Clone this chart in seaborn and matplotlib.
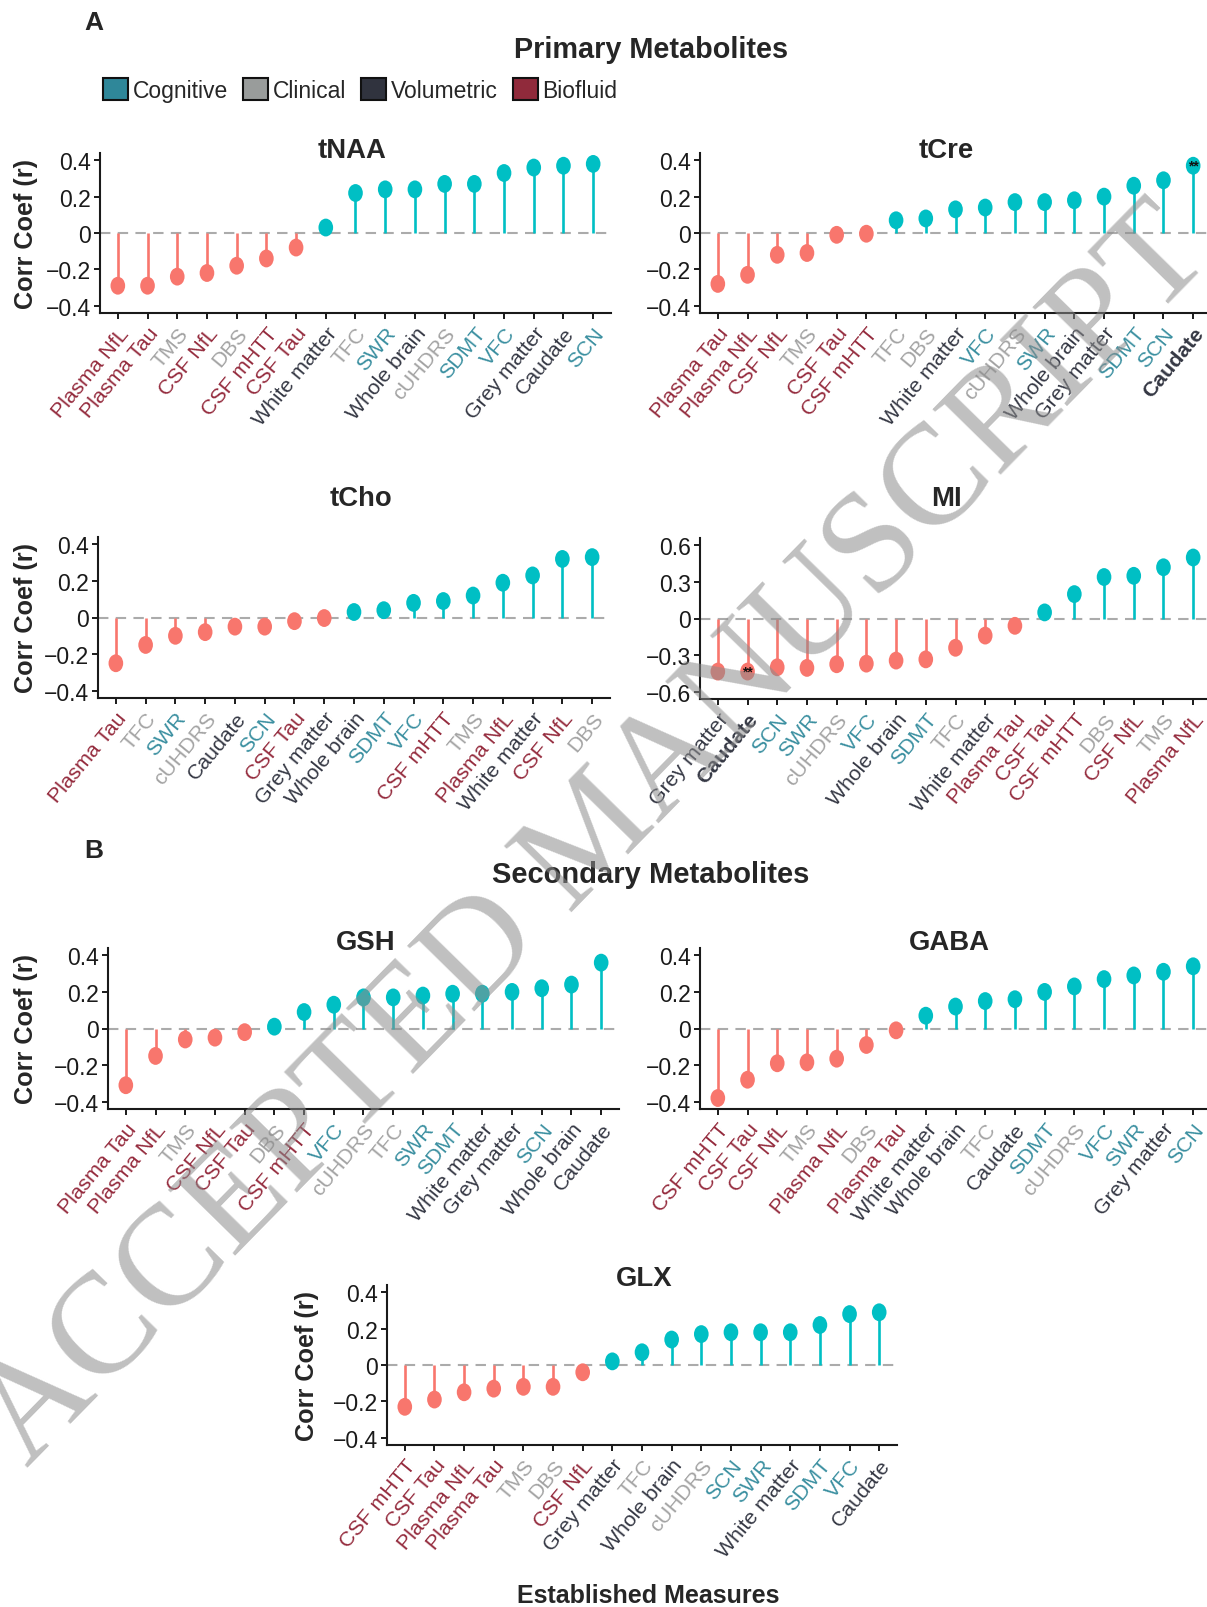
import numpy as np
import pandas as pd
import seaborn as sns
import matplotlib.pyplot as plt
from matplotlib.path import Path
from matplotlib.patches import Patch
from matplotlib.transforms import Affine2D

W, H = 1207, 1608

# measure -> domain
COGNITIVE = ['SWR', 'SDMT', 'VFC', 'SCN']
CLINICAL = ['TMS', 'DBS', 'TFC', 'cUHDRS']
VOLUMETRIC = ['White matter', 'Whole brain', 'Grey matter', 'Caudate']
BIOFLUID = ['Plasma NfL', 'Plasma Tau', 'CSF NfL', 'CSF mHTT', 'CSF Tau']

legend_names = ['Cognitive', 'Clinical', 'Volumetric', 'Biofluid']
legend_fill = ['#2f8799', '#999c9b', '#30333e', '#902a3b']
label_cols = ['#3a8fa0', '#a3a3a3', '#353844', '#952c3e']

# primary metabolites
tnaa_labels = ['Plasma NfL', 'Plasma Tau', 'TMS', 'CSF NfL', 'DBS', 'CSF mHTT', 'CSF Tau',
               'White matter', 'TFC', 'SWR', 'Whole brain', 'cUHDRS', 'SDMT', 'VFC',
               'Grey matter', 'Caudate', 'SCN']
tnaa_r = [-0.29, -0.29, -0.24, -0.22, -0.18, -0.14, -0.08, 0.03, 0.22, 0.24, 0.24,
          0.27, 0.27, 0.33, 0.36, 0.37, 0.38]

tcre_labels = ['Plasma Tau', 'Plasma NfL', 'CSF NfL', 'TMS', 'CSF Tau', 'CSF mHTT', 'TFC',
               'DBS', 'White matter', 'VFC', 'cUHDRS', 'SWR', 'Whole brain', 'Grey matter',
               'SDMT', 'SCN', 'Caudate']
tcre_r = [-0.28, -0.23, -0.12, -0.11, -0.01, -0.004, 0.07, 0.08, 0.13, 0.14, 0.17,
          0.17, 0.18, 0.20, 0.26, 0.29, 0.37]

tcho_labels = ['Plasma Tau', 'TFC', 'SWR', 'cUHDRS', 'Caudate', 'SCN', 'CSF Tau',
               'Grey matter', 'Whole brain', 'SDMT', 'VFC', 'CSF mHTT', 'TMS', 'Plasma NfL',
               'White matter', 'CSF NfL', 'DBS']
tcho_r = [-0.25, -0.15, -0.10, -0.08, -0.05, -0.05, -0.02, -0.003, 0.03, 0.04, 0.08,
          0.09, 0.12, 0.19, 0.23, 0.32, 0.33]

mi_labels = ['Grey matter', 'Caudate', 'SCN', 'SWR', 'cUHDRS', 'VFC', 'Whole brain', 'SDMT',
             'TFC', 'White matter', 'Plasma Tau', 'CSF Tau', 'CSF mHTT', 'DBS', 'CSF NfL',
             'TMS', 'Plasma NfL']
mi_r = [-0.435, -0.435, -0.40, -0.405, -0.375, -0.37, -0.345, -0.335, -0.24, -0.14,
        -0.06, 0.05, 0.20, 0.34, 0.35, 0.42, 0.50]

# secondary metabolites
gsh_labels = ['Plasma Tau', 'Plasma NfL', 'TMS', 'CSF NfL', 'CSF Tau', 'DBS', 'CSF mHTT',
              'VFC', 'cUHDRS', 'TFC', 'SWR', 'SDMT', 'White matter', 'Grey matter', 'SCN',
              'Whole brain', 'Caudate']
gsh_r = [-0.31, -0.15, -0.06, -0.05, -0.02, 0.01, 0.09, 0.13, 0.17, 0.17, 0.18, 0.19,
         0.19, 0.20, 0.22, 0.24, 0.36]

gaba_labels = ['CSF mHTT', 'CSF Tau', 'CSF NfL', 'TMS', 'Plasma NfL', 'DBS', 'Plasma Tau',
               'White matter', 'Whole brain', 'TFC', 'Caudate', 'SDMT', 'cUHDRS', 'VFC',
               'SWR', 'Grey matter', 'SCN']
gaba_r = [-0.38, -0.28, -0.19, -0.185, -0.165, -0.09, -0.01, 0.07, 0.12, 0.15, 0.16,
          0.20, 0.23, 0.27, 0.29, 0.31, 0.34]

glx_labels = ['CSF mHTT', 'CSF Tau', 'Plasma NfL', 'Plasma Tau', 'TMS', 'DBS', 'CSF NfL',
              'Grey matter', 'TFC', 'Whole brain', 'cUHDRS', 'SCN', 'SWR', 'White matter',
              'SDMT', 'VFC', 'Caudate']
glx_r = [-0.23, -0.19, -0.15, -0.13, -0.12, -0.12, -0.04, 0.02, 0.07, 0.14, 0.17, 0.18,
         0.18, 0.18, 0.22, 0.28, 0.29]

ticks_04 = [-0.4, -0.2, 0, 0.2, 0.4]
ticks_06 = [-0.6, -0.3, 0, 0.3, 0.6]

SIGN_COLS = {'neg': '#f8766d', 'pos': '#00bfc4'}

group_of = {}
for name, members in zip(legend_names, [COGNITIVE, CLINICAL, VOLUMETRIC, BIOFLUID]):
    for m in members:
        group_of[m] = name
col_of_group = dict(zip(legend_names, label_cols))

sns.set_style('ticks')
plt.rcParams['font.family'] = ['Liberation Sans', 'DejaVu Sans']
plt.rcParams['axes.unicode_minus'] = True

ellipse = Path.unit_circle().transformed(Affine2D().scale(0.82, 1.0))

fig = plt.figure(figsize=(W / 100, H / 100), dpi=100)


def add_ax(left, top, right, bottom):
    return fig.add_axes([left / W, 1 - bottom / H, (right - left) / W, (bottom - top) / H])


def fmt(v):
    return '0' if v == 0 else f'{v:g}'.replace('-', '\u2212')


def draw_panel(box, title, title_xy, labels, r, yticks, ylabel_x=None, bold=None, star=None):
    left, top, right, bottom = box
    ax = add_ax(left, top, right, bottom)
    pos = np.arange(len(labels))
    df = pd.DataFrame({'pos': pos, 'r': r})
    df['sign'] = np.where(df['r'] < 0, 'neg', 'pos')

    ax.axhline(0, color='#ababab', lw=1.5, ls=(0, (5, 3.5)), zorder=1)
    ax.vlines(df['pos'], 0, df['r'], colors=[SIGN_COLS[s] for s in df['sign']],
              lw=1.9, zorder=2)
    sns.scatterplot(data=df, x='pos', y='r', hue='sign', hue_order=['neg', 'pos'],
                    palette=SIGN_COLS, marker=ellipse, s=165, linewidth=0,
                    legend=False, ax=ax, zorder=3)

    lim = abs(yticks[0]) * 1.1
    ax.set_ylim(-lim, lim)
    ax.set_xlim(-0.6, len(labels) - 0.4)
    ax.set_yticks(yticks)
    ax.set_yticklabels([fmt(v) for v in yticks], fontsize=16.5, color='#1a1a1a')
    ax.set_xticks(pos)
    ax.set_xticklabels(labels, rotation=50.5, ha='right', va='top',
                       rotation_mode='anchor', fontsize=15.3)
    for t, lab in zip(ax.get_xticklabels(), labels):
        t.set_color(col_of_group[group_of[lab]])
        if lab == bold:
            t.set_fontweight('bold')
    if star is not None:
        ax.text(star, r[star], '**', ha='center', va='center', fontsize=10,
                fontweight='bold', color='#111111', zorder=4)

    ax.set_xlabel('')
    if ylabel_x is not None:
        ax.set_ylabel('Corr Coef (r)', fontsize=18.2, fontweight='bold')
        ax.yaxis.set_label_coords((ylabel_x - left) / (right - left), 0.5)
    else:
        ax.set_ylabel('')

    sns.despine(ax=ax)
    for sp in ['left', 'bottom']:
        ax.spines[sp].set_linewidth(1.5)
        ax.spines[sp].set_color('#1a1a1a')
    ax.tick_params(axis='both', length=4.5, width=1.4, color='#1a1a1a', pad=2)
    ax.tick_params(axis='x', pad=3)

    fig.text(title_xy[0] / W, 1 - title_xy[1] / H, title, ha='center', va='baseline',
             fontsize=19.8, fontweight='bold')
    return ax


draw_panel((100, 154, 611, 314), 'tNAA', (352, 158), tnaa_labels, tnaa_r, ticks_04,
           ylabel_x=38)
draw_panel((700, 154, 1211, 314), 'tCre', (946, 158), tcre_labels, tcre_r, ticks_04,
           bold='Caudate', star=16)
draw_panel((98, 538, 610, 699), 'tCho', (361, 506), tcho_labels, tcho_r, ticks_04,
           ylabel_x=38)
draw_panel((700, 539, 1211, 700), 'MI', (946, 506), mi_labels, mi_r, ticks_06,
           bold='Caudate', star=1)
draw_panel((108, 949, 619, 1110), 'GSH', (366, 950), gsh_labels, gsh_r, ticks_04,
           ylabel_x=38)
draw_panel((700, 949, 1211, 1110), 'GABA', (949, 950), gaba_labels, gaba_r, ticks_04)
draw_panel((387, 1286, 897, 1446), 'GLX', (644, 1286), glx_labels, glx_r, ticks_04,
           ylabel_x=319)

# panel letters, section titles, shared x label
fig.text(94 / W, 1 - 23 / H, 'A', ha='center', va='center', fontsize=19, fontweight='bold')
fig.text(94 / W, 1 - 851 / H, 'B', ha='center', va='center', fontsize=19, fontweight='bold')
fig.text(651 / W, 1 - 50 / H, 'Primary Metabolites', ha='center', va='center',
         fontsize=20.8, fontweight='bold')
fig.text(651 / W, 1 - 875 / H, 'Secondary Metabolites', ha='center', va='center',
         fontsize=21, fontweight='bold')
fig.text(648 / W, 1 - 1596 / H, 'Established Measures', ha='center', va='center',
         fontsize=18, fontweight='bold')

handles = [Patch(facecolor=c, edgecolor='#111111', linewidth=1.5, label=n)
           for n, c in zip(legend_names, legend_fill)]
fig.legend(handles=handles, loc='center left', bbox_to_anchor=(103 / W, 1 - 91 / H),
           ncol=4, frameon=False, fontsize=16.5, handlelength=1.1, handleheight=1.1,
           handletextpad=0.2, columnspacing=0.65, borderaxespad=0, borderpad=0)

# watermark
fig.text(596 / W, 1 - 838 / H, 'ACCEPTED MANUSCRIPT', rotation=45.6, ha='center',
         va='center', rotation_mode='anchor', fontsize=103,
         family=['Liberation Serif', 'DejaVu Serif'], color='#8c8c8c', alpha=0.55,
         zorder=10)

fig.savefig('out.png', dpi=100)
